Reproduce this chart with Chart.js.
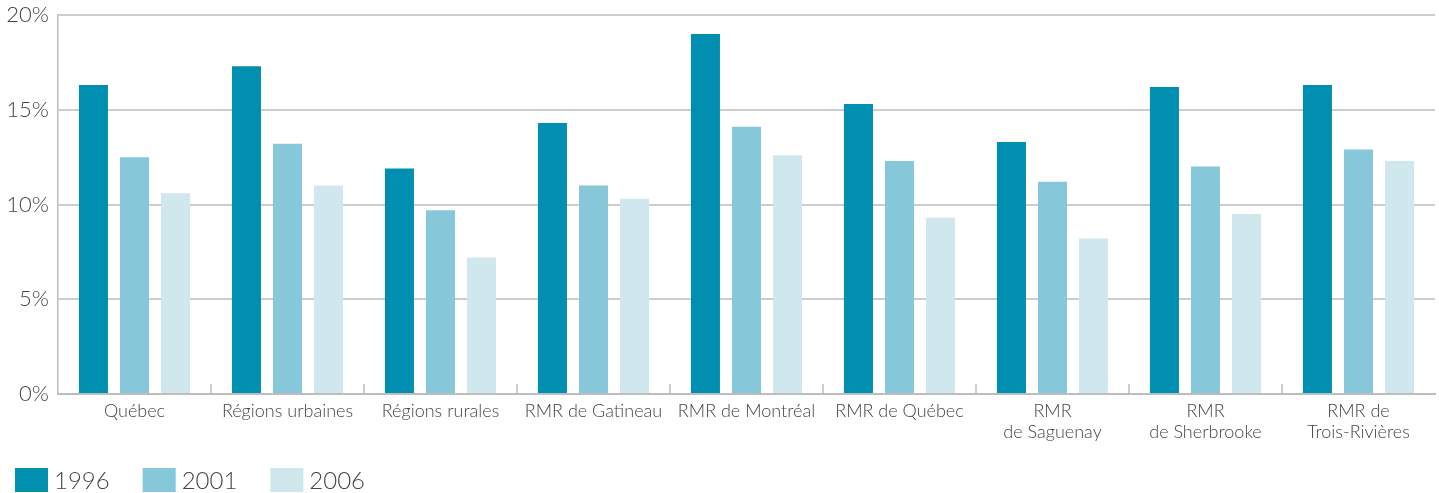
<!DOCTYPE html>
<html lang="fr">
<head>
<meta charset="utf-8">
<title>Taux par région, 1996-2006</title>
<script src="https://cdn.jsdelivr.net/npm/chart.js@4/dist/chart.umd.min.js"></script>
<style>
  html, body { margin: 0; padding: 0; background: #fff; }
  #wrap { width: 1439px; height: 493px; }
</style>
</head>
<body>
<div id="wrap"><canvas id="tauxChart"></canvas></div>
<script>
// Régions et séries (en %)
const regions = [
    'Québec',
    'Régions urbaines',
    'Régions rurales',
    'RMR de Gatineau',
    'RMR de Montréal',
    'RMR de Québec',
    ['RMR', 'de Saguenay'],
    ['RMR', 'de Sherbrooke'],
    ['RMR de', 'Trois-Rivières']
];
const annees = ['1996', '2001', '2006'];
const valeurs1996 = [16.3, 17.3, 11.9, 14.3, 19.0, 15.3, 13.3, 16.2, 16.3];
const valeurs2001 = [12.5, 13.2, 9.7, 11.0, 14.1, 12.3, 11.2, 12.0, 12.9];
const valeurs2006 = [10.6, 11.0, 7.2, 10.3, 12.6, 9.3, 8.2, 9.5, 12.3];
const yTicks = [0, 5, 10, 15, 20];

const couleurs = ['#008fb1', '#87c7da', '#d0e7ee'];
const grisGrille = '#cdcdcd';
const grisAxe = '#bdbdbd';
const texte = '#454545';
const police = "Lato, 'Open Sans', sans-serif";

// petits traits verticaux entre les groupes, posés sur l'axe x
const separateurs = {
    id: 'separateurs',
    afterDatasetsDraw(chart) {
        const x = chart.scales.x;
        const bas = chart.chartArea.bottom;
        const ctx = chart.ctx;
        ctx.save();
        ctx.strokeStyle = grisAxe;
        ctx.lineWidth = 1.5;
        for (let i = 0; i < regions.length - 1; i++) {
            const px = (x.getPixelForValue(i) + x.getPixelForValue(i + 1)) / 2;
            ctx.beginPath();
            ctx.moveTo(px, bas - 10);
            ctx.lineTo(px, bas);
            ctx.stroke();
        }
        ctx.restore();
    }
};

// légende maison en bas à gauche : carré de couleur puis année
const legendeBas = {
    id: 'legendeBas',
    afterDraw(chart) {
        const ctx = chart.ctx;
        const haut = chart.height - 25;
        let x = 15;
        ctx.save();
        ctx.font = `300 24px ${police}`;
        ctx.textBaseline = 'middle';
        chart.data.datasets.forEach(ds => {
            ctx.fillStyle = ds.backgroundColor;
            ctx.fillRect(x, haut, 33, 24);
            x += 33 + 6;
            ctx.fillStyle = texte;
            ctx.fillText(ds.label, x, haut + 13);
            x += ctx.measureText(ds.label).width + 33;
        });
        ctx.restore();
    }
};

document.addEventListener("DOMContentLoaded", function () {
    const ctx = document.getElementById('tauxChart').getContext('2d');
    const series = [valeurs1996, valeurs2001, valeurs2006];

    new Chart(ctx, {
        type: 'bar',
        data: {
            labels: regions,
            datasets: series.map((data, i) => ({
                label: annees[i],
                data: data,
                backgroundColor: couleurs[i],
                borderWidth: 0,
                barPercentage: 0.707,
                categoryPercentage: 0.805
            }))
        },
        options: {
            responsive: true,
            maintainAspectRatio: false,
            animation: false,
            layout: { padding: { top: 15, right: 4, left: 0, bottom: 45 } },
            plugins: {
                tooltip: { enabled: false },
                legend: { display: false }
            },
            scales: {
                x: {
                    grid: { display: false, drawTicks: false },
                    border: { color: grisAxe, width: 2 },
                    ticks: {
                        color: texte,
                        padding: 6,
                        maxRotation: 0,
                        autoSkip: false,
                        font: { family: police, size: 18, weight: '300', lineHeight: 1.2 }
                    },
                    afterFit(scale) { scale.height = 54; }
                },
                y: {
                    min: 0,
                    max: 20,
                    grid: { color: grisGrille, lineWidth: 2, drawTicks: false },
                    border: { color: grisAxe, width: 1.5 },
                    afterBuildTicks(scale) { scale.ticks = yTicks.map(v => ({ value: v })); },
                    ticks: {
                        color: texte,
                        padding: 9,
                        font: { family: police, size: 22, weight: '300', lineHeight: 0.5 },
                        callback: v => v + '%'
                    },
                    afterFit(scale) { scale.width = 58; }
                }
            }
        },
        plugins: [separateurs, legendeBas]
    });
});
</script>
</body>
</html>
